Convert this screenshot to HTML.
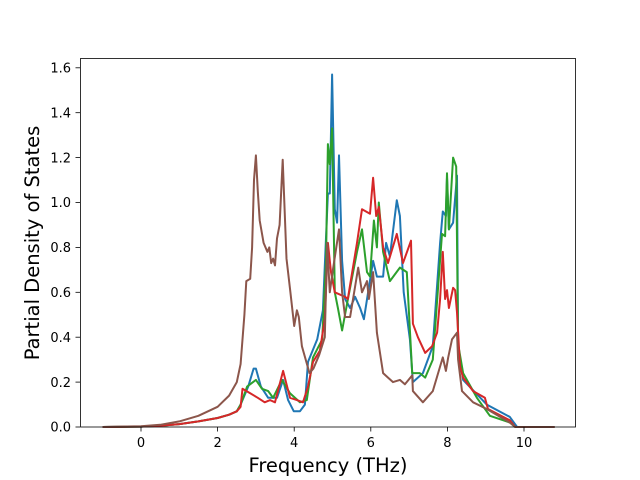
<!DOCTYPE html>
<html><head><meta charset="utf-8"><style>
html,body{margin:0;padding:0;background:#fff;width:640px;height:480px;overflow:hidden}
svg text{font-family:"DejaVu Sans","Liberation Sans",sans-serif;fill:#000}
</style></head><body>
<svg id="chart" width="640" height="480" viewBox="0 0 640 480" xmlns="http://www.w3.org/2000/svg">
<rect x="0" y="0" width="640" height="480" fill="#fff"/>
<g id="plot"></g>
<rect x="80.5" y="58.5" width="495" height="368.5" fill="none" stroke="#000" stroke-width="0.8"/>
<g id="xticks"></g><g id="yticks"></g>
<text x="328" y="472" font-size="19.5" text-anchor="middle">Frequency (THz)</text>
<text transform="translate(39,243) rotate(-90)" font-size="19.5" text-anchor="middle">Partial Density of States</text>
</svg>
<script>
const xTicks = [0, 2, 4, 6, 8, 10];
const yTicks = [0.0, 0.2, 0.4, 0.6, 0.8, 1.0, 1.2, 1.4, 1.6];
const seriesNames = ["blue", "green", "red", "brown"];
const seriesColors = ["#1f77b4", "#2ca02c", "#d62728", "#8c564b"];
const blueX = [-1,0,0.5,1,1.5,2,2.3,2.5,2.6,2.8,2.94,3.0,3.13,3.32,3.55,3.71,3.84,3.99,4.15,4.28,4.36,4.6,4.75,4.88,4.93,4.99,5.06,5.12,5.17,5.25,5.33,5.46,5.59,5.72,5.82,5.93,6.06,6.16,6.32,6.4,6.5,6.68,6.76,6.86,7.02,7.1,7.36,7.62,7.81,7.88,7.96,7.99,8.04,8.15,8.25,8.28,8.41,9.03,9.63,9.82,10.8];
const blueY = [0,0.002,0.006,0.013,0.025,0.04,0.055,0.07,0.1,0.18,0.26,0.26,0.18,0.13,0.13,0.21,0.12,0.07,0.07,0.1,0.29,0.39,0.52,1.04,1.04,1.57,0.97,0.91,1.21,0.74,0.57,0.53,0.58,0.53,0.48,0.6,0.74,0.67,0.67,0.82,0.76,1.01,0.94,0.6,0.39,0.2,0.24,0.36,0.82,0.96,0.94,1.11,0.88,0.91,1.12,0.37,0.21,0.1,0.045,0,0];
const greenX = [-1,0,0.5,1,1.5,2,2.3,2.5,2.6,2.77,3.0,3.16,3.32,3.45,3.68,3.89,4.15,4.33,4.49,4.73,4.83,4.88,4.93,4.99,5.06,5.14,5.25,5.38,5.64,5.77,5.9,5.98,6.08,6.16,6.21,6.32,6.5,6.76,6.94,7.08,7.28,7.42,7.62,7.86,7.94,7.99,8.04,8.15,8.23,8.28,8.41,8.77,9.11,9.63,9.77,10.8];
const greenY = [0,0.002,0.006,0.013,0.025,0.04,0.055,0.07,0.1,0.18,0.21,0.17,0.16,0.13,0.21,0.15,0.11,0.12,0.31,0.39,0.74,1.26,1.17,1.33,0.6,0.53,0.43,0.55,0.78,0.88,0.69,0.67,0.92,0.8,1.0,0.78,0.65,0.71,0.69,0.24,0.24,0.22,0.3,0.86,0.85,1.13,0.88,1.2,1.16,0.37,0.24,0.13,0.05,0.02,0,0];
const redX = [-1,0,0.5,1,1.5,2,2.3,2.5,2.6,2.65,2.85,3.05,3.23,3.37,3.5,3.71,3.89,4.07,4.23,4.36,4.49,4.67,4.8,4.88,4.96,5.06,5.33,5.4,5.64,5.77,5.98,6.06,6.14,6.21,6.32,6.45,6.68,6.84,7.05,7.1,7.23,7.42,7.6,7.73,7.81,7.88,7.94,7.99,8.04,8.15,8.2,8.25,8.33,8.41,8.67,8.98,9.06,9.63,9.77,10.8];
const redY = [0,0.002,0.006,0.013,0.025,0.04,0.055,0.07,0.09,0.17,0.15,0.13,0.11,0.12,0.11,0.25,0.13,0.12,0.11,0.18,0.29,0.34,0.48,0.82,0.69,0.6,0.58,0.57,0.82,0.97,0.95,1.11,0.94,0.98,0.8,0.73,0.86,0.73,0.83,0.46,0.4,0.33,0.36,0.42,0.57,0.78,0.57,0.61,0.53,0.62,0.61,0.51,0.27,0.22,0.16,0.13,0.08,0.03,0,0];
const brownX = [-1,0,0.5,1,1.5,2,2.3,2.5,2.6,2.7,2.75,2.85,2.9,2.95,3.0,3.05,3.1,3.2,3.3,3.35,3.4,3.45,3.5,3.55,3.62,3.7,3.8,3.9,4.0,4.07,4.12,4.2,4.3,4.4,4.5,4.65,4.8,4.86,4.93,5.01,5.17,5.25,5.33,5.46,5.67,5.77,5.9,5.95,6.06,6.16,6.32,6.45,6.58,6.76,6.89,7.08,7.1,7.36,7.62,7.88,7.96,8.02,8.12,8.25,8.28,8.38,8.67,9.03,9.63,9.77,10.8];
const brownY = [0,0.003,0.01,0.025,0.05,0.09,0.14,0.2,0.28,0.5,0.65,0.66,0.8,1.1,1.21,1.05,0.92,0.82,0.78,0.8,0.73,0.75,0.72,0.84,0.9,1.19,0.75,0.6,0.45,0.52,0.49,0.36,0.3,0.24,0.26,0.32,0.4,0.82,0.6,0.7,0.88,0.6,0.49,0.49,0.71,0.6,0.65,0.57,0.69,0.42,0.24,0.22,0.2,0.21,0.19,0.23,0.16,0.11,0.16,0.31,0.25,0.31,0.39,0.42,0.3,0.16,0.11,0.08,0.02,0,0];
const seriesX = [blueX, greenX, redX, brownX];
const seriesY = [blueY, greenY, redY, brownY];

const NS = "http://www.w3.org/2000/svg";
function xs(f){ return 141 + f * 38.3; }
function ys(v){ return 427 - v * 224.5; }

const plot = document.getElementById("plot");
seriesX.forEach(function(xa, i){
  const ya = seriesY[i];
  let d = "";
  for (let k = 0; k < xa.length; k++) d += (k ? "L" : "M") + xs(xa[k]).toFixed(1) + "," + Math.min(ys(ya[k]), 427).toFixed(1);
  const p = document.createElementNS(NS, "path");
  p.setAttribute("d", d);
  p.setAttribute("fill", "none");
  p.setAttribute("stroke", seriesColors[i]);
  p.setAttribute("stroke-width", "2");
  p.setAttribute("stroke-linejoin", "round");
  
  
  plot.appendChild(p);
});

const xg = document.getElementById("xticks");
xTicks.forEach(function(t){
  const x = xs(t);
  const l = document.createElementNS(NS, "line");
  l.setAttribute("x1", x); l.setAttribute("x2", x);
  l.setAttribute("y1", 427); l.setAttribute("y2", 431.5);
  l.setAttribute("stroke", "#000"); l.setAttribute("stroke-width", "0.8");
  
  
  xg.appendChild(l);
  const tx = document.createElementNS(NS, "text");
  tx.setAttribute("x", x); tx.setAttribute("y", 447);
  tx.setAttribute("font-size", "13"); tx.setAttribute("text-anchor", "middle");
  tx.textContent = String(t);
  
  
  xg.appendChild(tx);
});
const yg = document.getElementById("yticks");
yTicks.forEach(function(t){
  const y = ys(t);
  const l = document.createElementNS(NS, "line");
  l.setAttribute("x1", 75.5); l.setAttribute("x2", 80);
  l.setAttribute("y1", y); l.setAttribute("y2", y);
  l.setAttribute("stroke", "#000"); l.setAttribute("stroke-width", "0.8");
  
  
  yg.appendChild(l);
  const tx = document.createElementNS(NS, "text");
  tx.setAttribute("x", 71); tx.setAttribute("y", y + 4.7);
  tx.setAttribute("font-size", "13"); tx.setAttribute("text-anchor", "end");
  tx.textContent = t.toFixed(1);
  
  
  yg.appendChild(tx);
});
</script>
</body></html>
